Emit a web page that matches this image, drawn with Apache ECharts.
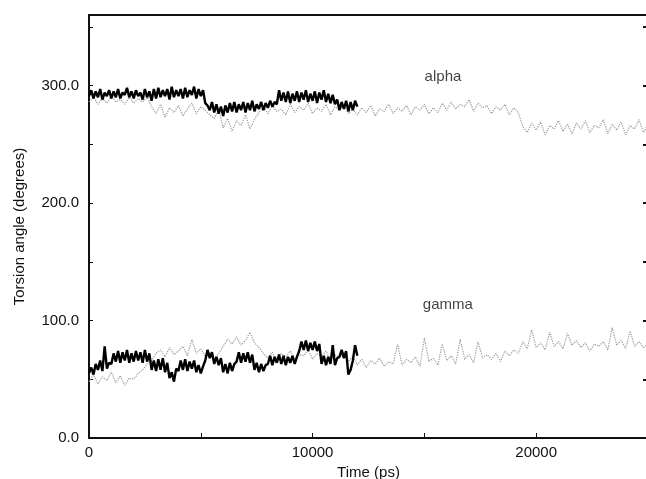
<!DOCTYPE html>
<html>
<head>
<meta charset="utf-8">
<script src="https://cdn.jsdelivr.net/npm/echarts@6/dist/echarts.min.js"></script>
<style>
html,body{margin:0;padding:0;background:#fff;overflow:hidden;}
#chart{width:646px;height:479px;}
</style>
</head>
<body>
<div id="chart"></div>
<script>
// Time grids (ps)
var blackStep = 100;   // run 1 sampled every 100 ps, 0..12000
var grayStep = 200;    // run 2 sampled every 200 ps, 0..25000

// Run 1 (black) alpha torsion, degrees
var alphaRun1 = [
  291,296,289,295,290,297,288,294,291,296,
  289,295,290,297,289,294,292,298,290,295,
  289,296,291,294,288,297,290,295,287,297,
  289,298,290,296,291,297,288,299,290,296,
  291,297,289,298,290,296,292,299,289,297,
  291,296,285,283,279,286,277,284,276,282,
  274,283,277,285,278,286,277,284,279,286,
  277,285,279,287,278,284,280,286,279,285,
  281,287,282,286,284,296,287,294,286,295,
  285,293,287,295,286,294,288,296,286,293,
  287,295,285,294,288,296,286,293,285,292,
  284,288,279,286,280,287,278,286,279,287,
  282
];
// Run 2 (gray) alpha torsion, degrees
var alphaRun2 = [
  286,290,284,289,285,291,286,288,284,290,
  285,289,286,290,282,276,284,273,281,277,
  283,274,280,285,276,282,279,275,272,280,
  264,272,261,270,266,275,263,271,277,282,
  276,283,278,280,275,284,277,282,279,285,
  276,281,278,284,275,282,279,283,276,280,
  275,281,277,283,274,280,278,284,276,281,
  278,283,275,282,279,284,276,281,277,285,
  279,286,280,284,282,288,278,285,281,283,
  276,282,279,284,275,281,277,265,260,268,
  262,269,258,266,263,270,261,267,259,268,
  263,270,260,266,264,271,259,267,262,269,
  258,266,263,271,260,267
];
// Run 1 (black) gamma torsion, degrees
var gammaRun1 = [
  55,60,54,63,58,66,57,78,59,64,
  63,72,65,74,64,73,66,75,64,72,
  65,74,66,73,64,75,65,72,58,66,
  57,67,58,68,56,64,51,56,48,59,
  57,66,58,67,57,65,59,66,56,62,
  55,61,66,75,68,73,63,69,62,68,
  56,63,55,64,57,63,65,73,64,72,
  65,73,64,71,58,64,56,63,57,62,
  63,70,62,69,64,71,63,70,62,69,
  64,70,63,69,74,82,75,83,74,81,
  75,82,74,80,63,70,62,69,63,79,
  62,68,69,75,68,74,54,58,66,79,
  70
];
// Run 2 (gray) gamma torsion, degrees
var gammaRun2 = [
  48,54,46,52,49,56,47,53,45,51,
  50,55,58,63,66,72,75,69,77,71,
  74,78,70,84,72,76,69,73,67,72,
  78,84,80,86,79,83,90,81,77,72,
  68,73,66,72,69,74,67,71,70,75,
  67,72,69,74,66,71,68,73,65,70,
  62,67,60,66,63,68,61,65,63,80,
  62,67,64,69,61,85,65,68,62,80,
  66,70,63,84,67,71,64,82,68,71,
  67,72,65,74,70,75,72,82,76,92,
  77,81,75,90,78,82,76,89,79,83,
  77,81,74,80,78,82,75,94,79,83,
  76,91,78,82,77,80
];
// Annotation labels: [time, angle, text]
var annotations = [[15830, 307, 'alpha'], [16050, 113, 'gamma']];

function pairs(vals, step) {
  return vals.map(function (v, i) { return [i * step, v]; });
}

var FONT = 'Liberation Sans, Arial, Helvetica, sans-serif';
var chart = echarts.init(document.getElementById('chart'), null, {renderer: 'canvas'});

var grayLine = {color: '#999', width: 1.2, type: 'dotted'};
var blackLine = {color: '#000', width: 2.4};

chart.setOption({
  animation: false,
  backgroundColor: '#fff',
  grid: {left: 89, right: -2, top: 15, bottom: 41, outerBoundsMode: 'none', containLabel: false},
  xAxis: [{
    type: 'value', min: 0, max: 25000, interval: 5000, position: 'bottom',
    name: 'Time (ps)', nameLocation: 'middle', nameGap: 22,
    nameTextStyle: {fontFamily: FONT, fontSize: 15, color: '#111'},
    axisLine: {onZero: false, lineStyle: {color: '#111', width: 2}},
    axisTick: {inside: true, length: 5, lineStyle: {color: '#111', width: 1}},
    axisLabel: {fontFamily: FONT, fontSize: 15, color: '#111', margin: 7,
      formatter: function (v) { return v % 10000 === 0 ? String(v) : ''; }},
    splitLine: {show: false}
  }, {
    type: 'value', min: 0, max: 25000, interval: 5000, position: 'top',
    axisLine: {onZero: false, lineStyle: {color: '#111', width: 2}},
    axisTick: {show: false},
    axisLabel: {show: false},
    splitLine: {show: false}
  }],
  yAxis: [{
    type: 'value', min: 0, max: 360, interval: 50, position: 'left',
    name: 'Torsion angle (degrees)', nameLocation: 'middle', nameGap: 62,
    nameTextStyle: {fontFamily: FONT, fontSize: 15, color: '#111'},
    axisLine: {show: true, onZero: false, lineStyle: {color: '#111', width: 2}},
    axisTick: {show: true, inside: true, length: 4, lineStyle: {color: '#111', width: 1}},
    axisLabel: {fontFamily: FONT, fontSize: 15, color: '#111', margin: 10,
      formatter: function (v) { return v % 100 === 0 ? v.toFixed(1) : ''; }},
    splitLine: {show: false}
  }, {
    type: 'value', min: 0, max: 360, interval: 50, position: 'right',
    axisLine: {show: true, onZero: false, lineStyle: {color: '#111', width: 2}},
    axisTick: {show: true, inside: true, length: 5, lineStyle: {color: '#111', width: 2}},
    axisLabel: {show: false},
    splitLine: {show: false}
  }],
  series: [
    {type: 'line', name: 'alpha run 2', data: pairs(alphaRun2, grayStep), showSymbol: false, lineStyle: grayLine, z: 2},
    {type: 'line', name: 'gamma run 2', data: pairs(gammaRun2, grayStep), showSymbol: false, lineStyle: grayLine, z: 2},
    {type: 'line', name: 'alpha run 1', data: pairs(alphaRun1, blackStep), showSymbol: false, lineStyle: blackLine, z: 3},
    {type: 'line', name: 'gamma run 1', data: pairs(gammaRun1, blackStep), showSymbol: false, lineStyle: blackLine, z: 3},
    {type: 'scatter', name: 'labels', data: annotations, symbolSize: 0, silent: true,
      label: {show: true, position: 'inside', fontFamily: FONT, fontSize: 15, color: '#111',
        formatter: function (p) { return p.value[2]; }}}
  ]
});
</script>
</body>
</html>
